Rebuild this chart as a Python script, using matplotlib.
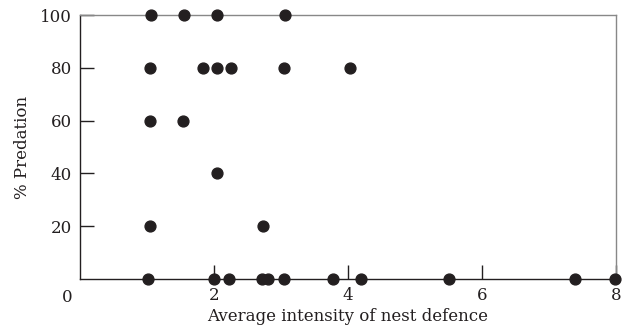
import matplotlib
matplotlib.use("Agg")
import matplotlib.pyplot as plt

# nest defence intensity vs % predation
defence = [1.06, 1.55, 2.04, 3.06,
           1.05, 1.84, 2.04, 2.25, 3.04, 4.03,
           1.04, 1.54,
           2.04,
           1.05, 2.73,
           1.02, 2.0, 2.23, 2.72, 2.80, 3.04, 3.77, 4.2, 5.5, 7.39, 7.99]
predation = [100, 100, 100, 100,
             80, 80, 80, 80, 80, 80,
             60, 60,
             40,
             20, 20,
             0, 0, 0, 0, 0, 0, 0, 0, 0, 0, 0]
xticks = [2, 4, 6, 8]
yticks = [20, 40, 60, 80, 100]

plt.rcParams['font.family'] = ['DejaVu Serif']
ink = '#231f20'
fs = 12

fig = plt.figure(figsize=(6.27, 3.35), dpi=100)
ax = fig.add_axes([0.1276, 0.1672, 0.855, 0.788])

ax.plot(defence, predation, 'o', color=ink, markersize=7.8, clip_on=False, zorder=5)

ax.set_xlim(0, 8)
ax.set_ylim(0, 100)
ax.set_xticks(xticks)
ax.set_yticks(yticks)
ax.tick_params(direction='in', length=10, width=1, color=ink,
               labelsize=fs, labelcolor=ink)
ax.tick_params(axis='x', pad=6)
ax.tick_params(axis='y', pad=6)

for side in ['left', 'bottom']:
    ax.spines[side].set_color(ink)
    ax.spines[side].set_linewidth(1)
for side in ['top', 'right']:
    ax.spines[side].set_color('#888888')
    ax.spines[side].set_linewidth(1)

# shared origin label in the corner
ax.annotate('0', xy=(0, 0), xytext=(-9, -13), textcoords='offset points',
            ha='center', va='center', fontsize=fs, color=ink)

ax.set_xlabel('Average intensity of nest defence', fontsize=fs, color=ink, labelpad=3)
ax.set_ylabel('% Predation', fontsize=fs, color=ink, labelpad=6)

fig.savefig('out.png', dpi=100)
